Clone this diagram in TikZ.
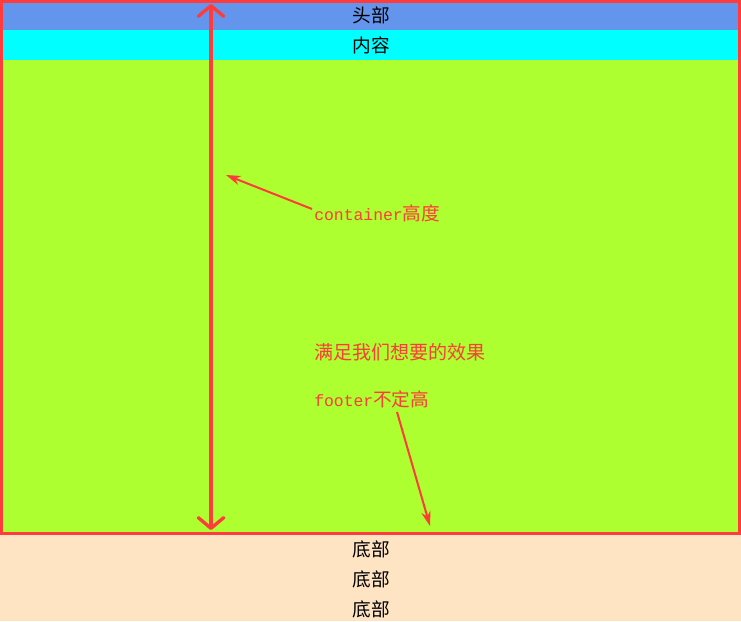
\documentclass[tikz,border=0pt]{standalone}
\usepackage{fontspec}
\newfontfamily\cjk{Noto Sans CJK SC}
\newfontfamily\mono{Liberation Mono}
\usetikzlibrary{arrows.meta}
\definecolor{hdr}{RGB}{100,149,237}
\definecolor{cnt}{RGB}{0,255,255}
\definecolor{grn}{RGB}{173,255,47}
\definecolor{ftr}{RGB}{255,228,196}
\definecolor{lred}{RGB}{255,59,59}
\begin{document}
\begin{tikzpicture}[x=0.75pt,y=-0.75pt,
  blk/.style={font=\cjk\fontsize{14}{16}\selectfont, text=black, inner sep=0},
  rtxt/.style={text=lred, anchor=west, inner sep=0, font=\fontsize{14}{16}\selectfont},
  pointer/.style={draw=lred, line width=1.5pt, -{Stealth[length=11pt,width=7pt]}},
  measure/.style={draw=lred, line width=3pt, line cap=round,
    {Straight Barb[width=19pt,length=8pt,line width=2.5pt,round]}-{Straight Barb[width=19pt,length=8pt,line width=2.5pt,round]}}]
\useasboundingbox (0,0) rectangle (741,621);
\fill[hdr] (0,0) rectangle (741,30);
\fill[cnt] (0,30) rectangle (741,60);
\fill[grn] (0,60) rectangle (741,533);
\fill[ftr] (0,533) rectangle (741,621);
\draw[lred, line width=2.25pt] (1.5,1.5) rectangle (739.5,533.5);
\node[blk] (h) at (371,15) {头部};
\node[blk] (n) at (371,45) {内容};
\node[blk] (f1) at (371,549) {底部};
\node[blk] (f2) at (371,579) {底部};
\node[blk] (f3) at (371,609) {底部};
\node[rtxt] (c) at (314,213) {{\mono\fontsize{12.3}{16}\selectfont container}{\cjk 高度}};
\node[rtxt] (m) at (314,352) {\cjk\fontsize{14.3}{16}\selectfont 满足我们想要的效果};
\node[rtxt] (ft) at (314,399) {{\mono\fontsize{12.3}{16}\selectfont footer}{\cjk 不定高}};
\coordinate (vt) at (211,4);
\coordinate (vb) at (211,530);
\draw[measure] (vt) -- (vb);
\coordinate (cs) at (312,209);
\coordinate (ce) at (226,175);
\draw[pointer] (cs) -- (ce);
\coordinate (fs) at (397,412);
\coordinate (fe) at (430,526);
\draw[pointer] (fs) -- (fe);
\end{tikzpicture}
\end{document}
